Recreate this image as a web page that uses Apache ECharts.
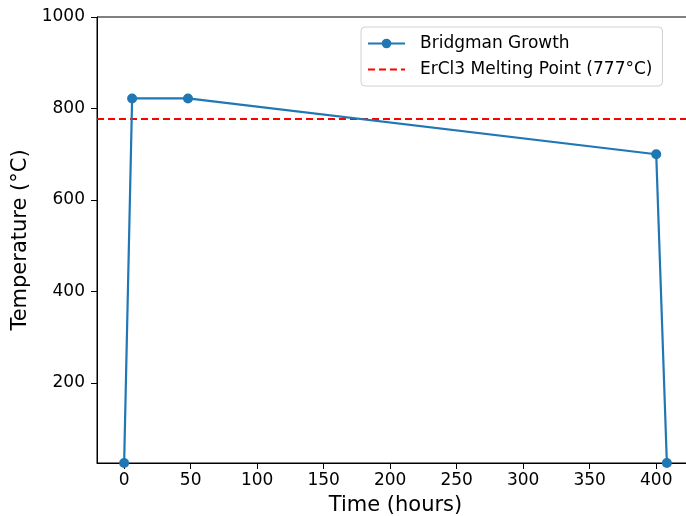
<!DOCTYPE html>
<html>
<head>
<meta charset="utf-8">
<script src="https://cdn.jsdelivr.net/npm/echarts@6/dist/echarts.min.js"></script>
<style>html,body{margin:0;padding:0;background:#fff}#c{width:686px;height:516px}</style>
</head>
<body>
<div id="c"></div>
<script>
const timeHours = [0, 6, 48, 400, 408];
const temperature = [25, 822, 822, 700, 25];
const meltingPoint = 777;
const xTicks = [0, 50, 100, 150, 200, 250, 300, 350, 400];
const yTicks = [200, 400, 600, 800, 1000];
const xRange = [-20.4, 428.4];
const yRange = [25, 1000];

const font = 'DejaVu Sans';
const chart = echarts.init(document.getElementById('c'), null, {renderer: 'canvas'});
chart.setOption({
  animation: false,
  backgroundColor: '#fff',
  grid: {left: 97, top: 17, width: 597, height: 446, show: true, borderColor: '#000', borderWidth: 1,
         backgroundColor: 'transparent', containLabel: false, outerBoundsMode: 'none'},
  legend: {
    left: 361, top: 27, orient: 'vertical',
    padding: [8, 10, 8, 6],
    itemWidth: 37, itemHeight: 12, itemGap: 9,
    borderColor: '#d0d0d0', borderWidth: 1, borderRadius: 4,
    backgroundColor: 'rgba(255,255,255,0.8)',
    textStyle: {fontFamily: font, fontSize: 17, color: '#000', padding: [0, 0, 0, 10]},
    data: [
      {name: 'Bridgman Growth'},
      {name: 'ErCl3 Melting Point (777°C)', itemStyle: {opacity: 0}}
    ]
  },
  xAxis: {
    type: 'value', min: xRange[0], max: xRange[1],
    name: 'Time (hours)', nameLocation: 'middle', nameGap: 32,
    nameTextStyle: {fontFamily: font, fontSize: 21, color: '#000'},
    axisLine: {show: true, onZero: false, lineStyle: {color: '#000', width: 1}},
    axisTick: {show: true, inside: false, length: 6, lineStyle: {color: '#000'}, customValues: xTicks},
    axisLabel: {fontFamily: font, fontSize: 17, color: '#000', margin: 9, customValues: xTicks, formatter: v => String(v)},
    splitLine: {show: false}
  },
  yAxis: {
    type: 'value', min: yRange[0], max: yRange[1],
    name: 'Temperature (°C)', nameLocation: 'middle', nameGap: 64,
    nameTextStyle: {fontFamily: font, fontSize: 21, color: '#000'},
    axisLine: {show: true, onZero: false, lineStyle: {color: '#000', width: 1}},
    axisTick: {show: true, inside: false, length: 6, lineStyle: {color: '#000'}, customValues: yTicks},
    axisLabel: {fontFamily: font, fontSize: 17, color: '#000', margin: 12, customValues: yTicks, formatter: v => String(v)},
    splitLine: {show: false}
  },
  series: [
    {
      name: 'Bridgman Growth', type: 'line',
      data: timeHours.map((t, i) => [t, temperature[i]]),
      symbol: 'circle', symbolSize: 10, showAllSymbol: true,
      lineStyle: {color: '#1f77b4', width: 2.2},
      itemStyle: {color: '#1f77b4'},
      clip: true, z: 3
    },
    {
      name: 'ErCl3 Melting Point (777°C)', type: 'line',
      data: [[xRange[0], meltingPoint], [xRange[1], meltingPoint]],
      symbol: 'none',
      lineStyle: {color: '#ff0000', width: 2, type: [7, 4]},
      itemStyle: {color: '#ff0000'},
      z: 2
    }
  ]
});
</script>
</body>
</html>
